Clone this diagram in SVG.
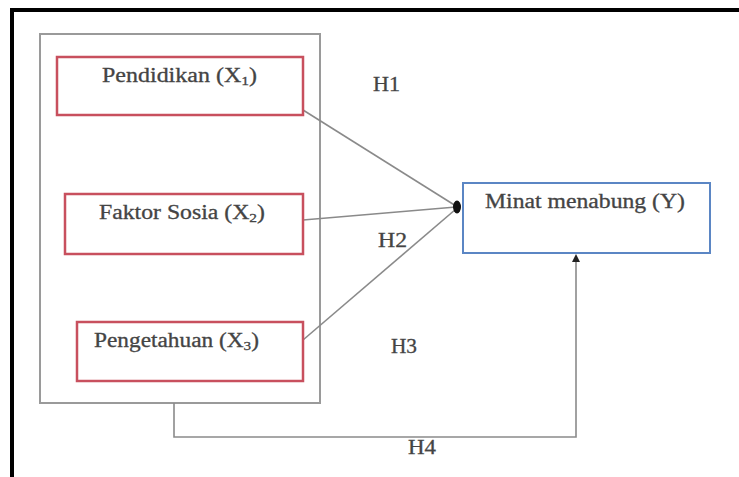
<svg xmlns="http://www.w3.org/2000/svg" width="739" height="477" viewBox="0 0 739 477">
<style>
.lbl{font-family:"Liberation Serif","Times New Roman",serif;font-size:20px;fill:#444;stroke:#444;stroke-width:0.3}
.sub{font-size:13px}
.src{fill:#fff;stroke:#c8505e;stroke-width:2.5}
.ln{stroke:#8a8a8a;stroke-width:1.6;fill:none}
</style>
<rect width="739" height="477" fill="#fff"/>
<g id="frame">
<path d="M12,477 L12,10 L739,10" fill="none" stroke="#000" stroke-width="4"/>
</g>
<g id="container">
<rect x="40" y="34" width="280" height="369" fill="none" stroke="#9a9a9a" stroke-width="2"/>
</g>
<g id="connectors">
<line class="ln" x1="303" y1="110" x2="456" y2="206"/>
<line class="ln" x1="303" y1="220" x2="456" y2="207"/>
<line class="ln" x1="303" y1="340" x2="456" y2="209"/>
<path class="ln" d="M174,403 L174,437 L576,437 L576,260"/>
<polygon points="576,254 572,262 580,262" fill="#222"/>
<ellipse cx="457" cy="207" rx="4" ry="6.5" fill="#111"/>
<text class="lbl" x="373" y="91" textLength="27" lengthAdjust="spacingAndGlyphs">H1</text>
<text class="lbl" x="378" y="247" textLength="29" lengthAdjust="spacingAndGlyphs">H2</text>
<text class="lbl" x="391" y="353" textLength="26" lengthAdjust="spacingAndGlyphs">H3</text>
<text class="lbl" x="408" y="454" textLength="28" lengthAdjust="spacingAndGlyphs">H4</text>
</g>
<g id="x1">
<rect class="src" x="57" y="57" width="246" height="58"/>
<text class="lbl" x="102" y="82" textLength="155" lengthAdjust="spacingAndGlyphs">Pendidikan (X<tspan class="sub" dy="3">1</tspan><tspan dy="-3">)</tspan></text>
</g>
<g id="x2">
<rect class="src" x="65" y="194" width="238" height="60"/>
<text class="lbl" x="99" y="219" textLength="166" lengthAdjust="spacingAndGlyphs">Faktor Sosia (X<tspan class="sub" dy="3">2</tspan><tspan dy="-3">)</tspan></text>
</g>
<g id="x3">
<rect class="src" x="77" y="322" width="226" height="59"/>
<text class="lbl" x="94" y="347" textLength="165" lengthAdjust="spacingAndGlyphs">Pengetahuan (X<tspan class="sub" dy="3">3</tspan><tspan dy="-3">)</tspan></text>
</g>
<g id="y">
<rect x="463" y="183" width="247" height="70" fill="#fff" stroke="#5b86c4" stroke-width="2"/>
<text class="lbl" x="485" y="208" textLength="200" lengthAdjust="spacingAndGlyphs">Minat menabung (Y)</text>
</g>
</svg>
